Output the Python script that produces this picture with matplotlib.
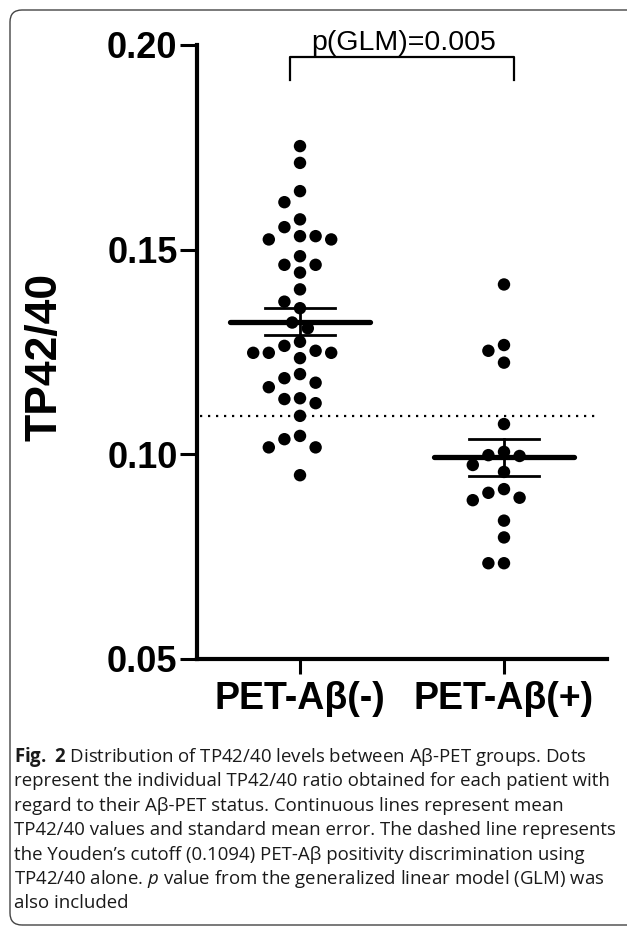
import numpy as np
import matplotlib
matplotlib.use('Agg')
import matplotlib.pyplot as plt
from matplotlib.patches import FancyBboxPatch

# ---------------- data ----------------
groups = ['PET-Aβ(-)', 'PET-Aβ(+)']
neg_values = [0.1753, 0.1712, 0.1643, 0.1616, 0.1574, 0.1555, 0.1533, 0.1525,
              0.1525, 0.1533, 0.1484, 0.1463, 0.1463, 0.1444, 0.1403, 0.1373,
              0.1357, 0.1322, 0.1308, 0.1275, 0.1265, 0.1248, 0.1248, 0.1235,
              0.1248, 0.1253, 0.1196, 0.1175, 0.1186, 0.1164, 0.1135, 0.1137,
              0.1125, 0.1094, 0.1045, 0.1037, 0.1017, 0.1017, 0.0949]
pos_values = [0.1415, 0.1267, 0.1253, 0.1224, 0.1074, 0.0996, 0.0998, 0.1006,
              0.0974, 0.0957, 0.0915, 0.0894, 0.0888, 0.0906, 0.0838, 0.0797,
              0.0734, 0.0734]
cutoff = 0.1094
p_text = 'p(GLM)=0.005'
y_ticks = [0.05, 0.10, 0.15, 0.20]
y_tick_labels = ['0.05', '0.10', '0.15', '0.20']
y_label = 'TP42/40'
caption_lines = [
    r"$\mathbf{Fig.\ 2}$ Distribution of TP42/40 levels between Aβ-PET groups. Dots",
    "represent the individual TP42/40 ratio obtained for each patient with",
    "regard to their Aβ-PET status. Continuous lines represent mean",
    "TP42/40 values and standard mean error. The dashed line represents",
    "the Youden’s cutoff (0.1094) PET-Aβ positivity discrimination using",
    r"TP42/40 alone. $\mathit{p}$ value from the generalized linear model (GLM) was",
    "also included",
]

CAP_FONT = 'Open Sans'
plt.rcParams['mathtext.fontset'] = 'custom'
plt.rcParams['mathtext.rm'] = CAP_FONT
plt.rcParams['mathtext.bf'] = CAP_FONT + ':bold'
plt.rcParams['mathtext.it'] = CAP_FONT + ':italic'

W, H = 627, 932
fig = plt.figure(figsize=(W / 100, H / 100), dpi=100)
fig.patch.set_facecolor('white')
ax = fig.add_axes([197 / W, 1 - 659 / H, 410 / W, 614 / H])
ax.set_xlim(0.495, 2.505)
ax.set_ylim(0.05, 0.20)
centers = [1, 2]


def swarm(values, center, diam_px=15.0, step_px=7.8):
    values = np.asarray(values)
    order = np.argsort(-values, kind='stable')
    placed = []
    xs = np.zeros(len(values))
    cx_px = ax.transData.transform((center, 0.1))[0]
    seq = [0] + [s * k for k in range(1, 30) for s in (-1, 1)]
    for i in order:
        y_px = ax.transData.transform((center, values[i]))[1]
        for k in seq:
            x_px = cx_px + k * step_px
            if all((x_px - px) ** 2 + (y_px - py) ** 2 >= diam_px ** 2 for px, py in placed):
                break
        placed.append((x_px, y_px))
        xs[i] = ax.transData.inverted().transform((x_px, y_px))[0]
    return xs


for vals, c in zip([neg_values, pos_values], centers):
    v = np.asarray(vals)
    xs = swarm(v, c)
    ax.scatter(xs, v, s=80, color='black', edgecolors='none', zorder=3)
    m = v.mean()
    sem = v.std(ddof=1) / np.sqrt(len(v))
    ax.plot([c - 0.343, c + 0.343], [m, m], color='black', lw=3.8,
            solid_capstyle='round', zorder=4)
    ax.plot([c - 0.172, c + 0.172], [m + sem, m + sem], color='black', lw=2.0, zorder=4)
    ax.plot([c - 0.172, c + 0.172], [m - sem, m - sem], color='black', lw=2.0, zorder=4)
    ax.plot([c, c], [m - sem, m + sem], color='black', lw=2.0, zorder=4)

ax.plot([0.51, 2.45], [cutoff, cutoff], color='black', lw=1.6,
        linestyle=(0, (1, 2.6)), zorder=2)

# significance bracket
ax.plot([0.95, 0.95, 2.05, 2.05], [0.1914, 0.1971, 0.1971, 0.1914],
        color='black', lw=1.6, clip_on=False)
ax.text(1.51, 0.1988, p_text, ha='center', va='baseline', fontsize=20.5,
        family='Liberation Sans', clip_on=False)

for s in ['top', 'right']:
    ax.spines[s].set_visible(False)
for s in ['left', 'bottom']:
    ax.spines[s].set_linewidth(3.0)

ax.set_yticks(y_ticks)
ax.set_yticklabels(y_tick_labels)
ax.set_xticks(centers)
ax.set_xticklabels(groups)
ax.tick_params(axis='y', length=12, width=2.2, pad=2, labelsize=26)
ax.tick_params(axis='x', length=11, width=2.2, pad=5, labelsize=27)
for lab in ax.get_yticklabels() + ax.get_xticklabels():
    lab.set_family('Liberation Sans')
    lab.set_weight('bold')

fig.text(45 / W, 1 - 357 / H, y_label, rotation=90, ha='center', va='center',
         fontsize=32, weight='bold', family='Liberation Sans')

# caption: size chosen so that the second line spans the same width as in the reference
renderer = fig.canvas.get_renderer()
probe = fig.text(0, 0, caption_lines[1], fontsize=10, family=CAP_FONT)
w10 = probe.get_window_extent(renderer).width
probe.remove()
cap_size = 10 * 597.0 / w10

y0 = 762
dy = 24.4
for i, line in enumerate(caption_lines):
    fig.text(14 / W, 1 - (y0 + i * dy) / H, line, ha='left', va='baseline',
             fontsize=cap_size, family=CAP_FONT, color='#1a1a1a')

box = FancyBboxPatch((0.10, 0.07), 6.5, 9.15,
                     boxstyle='round,pad=0,rounding_size=0.12',
                     transform=fig.dpi_scale_trans, facecolor='none',
                     edgecolor='#444444', lw=1.0)
fig.patches.append(box)

fig.savefig('out.png', dpi=100)
